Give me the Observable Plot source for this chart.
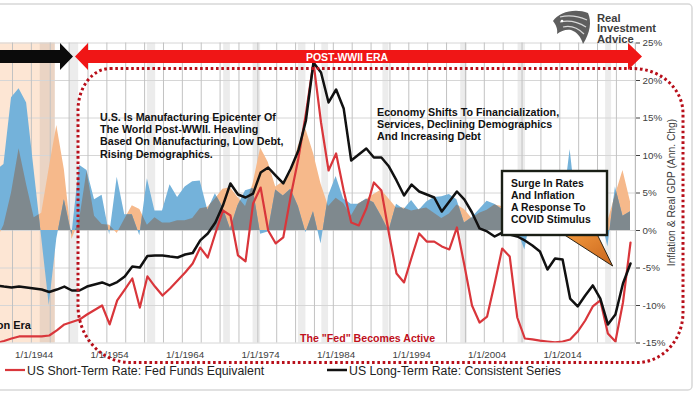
<!DOCTYPE html>
<html>
<head>
<meta charset="utf-8">
<script src="https://cdn.jsdelivr.net/npm/d3@7"></script>
<script src="https://cdn.jsdelivr.net/npm/@observablehq/plot@0.6"></script>
<style>
html,body{margin:0;padding:0;background:#fff;}
#chart{width:700px;height:394px;overflow:hidden;}
</style>
</head>
<body>
<div id="chart"></div>
<script>
// ---------- DATA ----------
const areaYears = [1938,1939,1940,1941,1942,1943,1944,1945,1946,1947,1948,1949,1950,1951,1952,1953,1954,1955,1956,1957,1958,1959,1960,1961,1962,1963,1964,1965,1966,1967,1968,1969,1970,1971,1972,1973,1974,1975,1976,1977,1978,1979,1980,1981,1982,1983,1984,1985,1986,1987,1988,1989,1990,1991,1992,1993,1994,1995,1996,1997,1998,1999,2000,2001,2002,2003,2004,2005,2006,2007,2008,2009,2010,2011,2012,2013,2014,2015,2016,2017,2018,2019,2020,2021,2022,2023];
// Inflation, annual % change (right axis)
const inflation = [-2.1,-1.4,0.7,5.0,10.9,6.1,1.7,2.3,8.3,14.0,8.1,-1.2,1.3,7.9,1.9,0.8,0.7,-0.4,1.5,3.3,2.8,0.7,1.7,1.0,1.0,1.3,1.3,1.6,2.9,3.1,4.2,5.5,5.7,4.4,3.2,6.2,11.0,9.1,5.8,6.5,7.6,11.3,13.5,10.3,6.2,3.2,4.3,3.6,1.9,3.6,4.1,4.8,5.4,4.2,3.0,3.0,2.6,2.8,3.0,2.3,1.6,2.2,3.4,2.8,1.6,2.3,2.7,3.4,3.2,2.8,3.8,-0.4,1.6,3.2,2.1,1.5,1.6,0.1,1.3,2.1,2.4,1.8,1.2,4.7,8.0,3.8];
// Real GDP, annual % change (right axis)
const realGDP = [-3.3,8.0,8.8,17.7,18.9,17.0,8.0,-1.0,-10.0,-1.1,4.1,-0.6,8.7,8.0,4.1,4.7,-0.6,7.1,2.1,2.1,-0.7,6.9,2.6,2.6,6.1,4.4,5.8,6.5,6.6,2.7,4.9,3.1,0.2,3.3,5.3,5.6,-0.5,-0.2,5.4,4.6,5.5,3.2,-0.3,2.5,-1.8,4.6,7.2,4.2,3.5,3.5,4.2,3.7,1.9,-0.1,3.5,2.8,4.0,2.7,3.8,4.4,4.5,4.8,4.1,1.0,1.7,2.8,3.9,3.5,2.8,2.0,0.1,-2.6,2.7,1.6,2.3,2.1,2.5,10.8,1.8,2.5,3.0,2.3,-2.2,5.8,1.9,2.5];

const rateYears = [1939,1940,1941,1942,1943,1944,1945,1946,1947,1948,1949,1950,1951,1952,1953,1954,1955,1956,1957,1958,1959,1960,1961,1962,1963,1964,1965,1966,1967,1968,1969,1970,1971,1972,1973,1974,1975,1976,1977,1978,1979,1980,1981,1982,1983,1984,1985,1986,1987,1988,1989,1990,1991,1992,1993,1994,1995,1996,1997,1998,1999,2000,2001,2002,2003,2004,2005,2006,2007,2008,2009,2010,2011,2012,2013,2014,2015,2016,2017,2018,2019,2020,2021,2022,2023];
// US Short-Term Rate: Fed Funds Equivalent (%), on the hidden 0–16% left scale
const shortRate = [0.0,0.11,0.24,0.35,0.35,0.35,0.35,0.40,0.67,0.99,1.12,1.25,1.52,1.76,2.00,0.99,2.27,2.85,3.44,1.89,3.55,3.01,2.53,2.91,3.33,3.76,4.24,5.09,4.56,5.84,7.07,6.80,4.67,4.35,7.44,8.29,6.00,5.31,5.63,7.87,9.84,12.24,14.96,11.76,9.20,10.11,8.13,6.43,6.27,7.17,8.56,8.13,5.84,3.71,3.23,4.56,5.84,5.41,5.41,5.15,4.99,6.16,4.13,2.00,1.09,1.41,3.17,5.04,4.61,1.36,0.24,0.19,0.13,0.08,0.03,0.08,0.19,0.61,1.20,1.95,2.27,0.51,0.08,2.16,5.36];
// US Long-Term Rate: Consistent Series (%), same hidden left scale
const longRate = [3.07,3.01,2.96,3.01,2.96,2.91,2.85,2.72,2.85,3.01,2.80,2.80,3.01,3.12,3.23,3.07,3.25,3.55,4.08,4.03,4.64,4.67,4.67,4.61,4.56,4.72,4.80,5.47,5.84,6.43,7.33,8.51,7.92,7.76,7.97,9.09,9.36,8.93,8.51,9.31,10.27,11.87,14.96,14.43,12.83,13.52,12.51,9.73,10.05,10.37,9.89,9.89,9.41,8.67,7.87,8.45,8.08,7.92,7.76,7.01,7.55,8.08,7.65,6.96,6.11,5.95,5.68,5.89,5.79,5.68,5.47,5.20,4.88,3.92,4.51,4.45,2.37,1.95,2.53,3.07,2.37,0.99,1.52,3.17,4.24];

const xTickYears = [1944,1954,1964,1974,1984,1994,2004,2014];
const yTicks = [-15,-10,-5,0,5,10,15,20,25];
const recessions = [[1944.8,1946.8],[1948.7,1949.9],[1959.0,1960.1],[1969.1,1970.0],[1973.0,1974.0],[1979.0,1980.0],[1982.1,1983.0],[1990.2,1991.0],[2000.5,2001.4],[2008.1,2009.1],[2019.7,2020.5]];
const eraSpan = [1930, 1946.8];

// ---------- HELPERS ----------
const FONT = '"Liberation Sans", Arial, Helvetica, sans-serif';
const toRight = r => -15 + 2.5 * r; // left rate axis 0–16% aligned with right axis −15%…25%

// region where the two areas overlap (drawn grey), with breakpoints inserted
function overlapSeries(xs, a, b) {
  const f = (p, q) => (p > 0 && q > 0) ? Math.min(p, q) : (p < 0 && q < 0) ? Math.max(p, q) : 0;
  const pts = [];
  for (let i = 0; i < xs.length; i++) {
    pts.push({x: xs[i], y: f(a[i], b[i])});
    if (i < xs.length - 1) {
      const da = a[i + 1] - a[i], db = b[i + 1] - b[i];
      const ts = [];
      if (a[i] * a[i + 1] < 0) ts.push(-a[i] / da);
      if (b[i] * b[i + 1] < 0) ts.push(-b[i] / db);
      if (da !== db) { const t = (b[i] - a[i]) / (da - db); if (t > 0 && t < 1) ts.push(t); }
      ts.sort((p, q) => p - q).forEach(t => {
        pts.push({x: xs[i] + (xs[i + 1] - xs[i]) * t, y: f(a[i] + da * t, b[i] + db * t)});
      });
    }
  }
  return pts;
}

const areaData = areaYears.map((year, i) => ({year, infl: inflation[i], gdp: realGDP[i]}));
const rateData = rateYears.map((year, i) => ({year, short: shortRate[i], long: longRate[i]}));
const overlap = overlapSeries(areaYears, inflation, realGDP);
const xDomain = [1939.54, 2023.66];
const gridYears = d3.range(1941.13, 2024, 2.5);

const plot = Plot.plot({
  width: 700, height: 394,
  marginTop: 42.5, marginBottom: 51.5, marginLeft: 0, marginRight: 65,
  x: {domain: xDomain},
  y: {domain: [-15, 25]},
  style: {fontFamily: FONT, background: "transparent"},
  marks: [
    Plot.rect([eraSpan], {x1: d => Math.max(d[0], xDomain[0]), x2: d => d[1], fill: "#fde6d4"}),
    Plot.rect(recessions, {x1: d => d[0], x2: d => d[1], fill: "#000", fillOpacity: 0.075}),
    Plot.gridY(yTicks, {stroke: "#d6d6d6", strokeOpacity: 1}),
    Plot.gridX(gridYears, {stroke: "#c2c2c2", strokeOpacity: 1}),
    Plot.areaY(areaData, {x: "year", y: "infl", fill: "#f6b98b", clip: true}),
    Plot.areaY(areaData, {x: "year", y: "gdp", fill: "#74b2da", clip: true}),
    Plot.areaY(overlap, {x: "x", y: "y", fill: "#7f898e", clip: true}),
    Plot.line(rateData, {x: "year", y: d => toRight(d.short), stroke: "#d9363b", strokeWidth: 2.2, clip: true}),
    Plot.line(rateData, {x: "year", y: d => toRight(d.long), stroke: "#111", strokeWidth: 2.5, clip: true}),
    Plot.ruleX([xDomain[1]], {stroke: "#bcbcbc"}),
    Plot.axisY(yTicks, {anchor: "right", tickFormat: d => d + "%", tickSize: 4, tickPadding: 3, fontSize: 9.8, color: "#404040"}),
    Plot.axisX(xTickYears, {anchor: "bottom", tickFormat: d => "1/1/" + d, tickSize: 0, tickPadding: 8, fontSize: 9.8, color: "#404040"})
  ]
});
document.getElementById("chart").appendChild(plot);

// ---------- ANNOTATIONS ----------
const sx = plot.scale("x").apply, sy = plot.scale("y").apply;
const svg = d3.select(plot);
const ann = svg.append("g").attr("font-family", FONT).attr("text-anchor", "start");

// outer light frame of the graphic
ann.append("rect").attr("x", -6).attr("y", 4).attr("width", 698).attr("height", 386).attr("rx", 4)
  .attr("fill", "none").attr("stroke", "#d8d8d8").attr("stroke-width", 1.5);

// right axis title
ann.append("text").attr("transform", `translate(675,${sy(5)}) rotate(-90)`).attr("text-anchor", "middle")
  .attr("font-size", 10.3).attr("fill", "#404040").text("Inflation & Real GDP (Ann. Chg)");

// black era arrow (cut by left edge)
ann.append("path").attr("d", "M-10,50 H60 V43 L73,56.5 L60,70 V63 H-10 Z").attr("fill", "#0b0b0b");
// red double arrow "POST-WWII ERA"
ann.append("path").attr("d", "M75,56.5 L88,43 V50 H628 V43 L642,56.5 L628,70 V63 H88 V70 Z").attr("fill", "#f01616");
ann.append("text").attr("x", 347).attr("y", 61).attr("text-anchor", "middle").attr("font-size", 10.5)
  .attr("font-weight", "bold").attr("fill", "#fff").text("POST-WWII ERA");

// dotted rounded rectangle
ann.append("path")
  .attr("d", "M110,68.5 L633,68.5 A50 45 0 0 1 683,113 L683,313 A46 50 0 0 1 637,362.5 L130,362.5 A52 57 0 0 1 78,306 L78,110 A32 42 0 0 1 110,68.5 Z")
  .attr("fill", "none").attr("stroke", "#b80f1a").attr("stroke-width", 3).attr("stroke-dasharray", "2.6 2.7");

// era labels
ann.append("text").attr("x", 31).attr("y", 329).attr("text-anchor", "end").attr("font-size", 11)
  .attr("font-weight", "bold").attr("fill", "#111").text("Great Depression Era");
ann.append("text").attr("x", 300).attr("y", 342).attr("font-size", 10.6)
  .attr("font-weight", "bold").attr("fill", "#c0101c").text('The "Fed" Becomes Active');

function block(x, y0, lines, size, lh) {
  const t = ann.append("text").attr("font-size", size).attr("font-weight", "bold").attr("fill", "#111").attr("text-anchor", "start");
  lines.forEach((s, i) => t.append("tspan").attr("x", x).attr("y", y0 + i * lh).text(s));
}
block(100, 121, ["U.S. Is Manufacturing Epicenter Of", "The World Post-WWII. Heavling", "Based On Manufacturing, Low Debt,", "Rising Demographics."], 10.7, 12.2);
block(377, 116, ["Economy Shifts To Financialization,", "Services, Declining Demographics", "And Increasing Debt"], 10.7, 12.2);

// callout
const grad = svg.append("defs").append("linearGradient").attr("id", "cg").attr("x1", 0).attr("y1", 0).attr("x2", 1).attr("y2", 1);
grad.append("stop").attr("offset", "0%").attr("stop-color", "#f39a3e");
grad.append("stop").attr("offset", "100%").attr("stop-color", "#c8641c");
const tipX = sx(2020.7), tipY = sy(-4.8);
ann.append("path").attr("d", `M563,234 L597,234 L${tipX},${tipY} Z`).attr("fill", "url(#cg)").attr("stroke", "#2c2416").attr("stroke-width", 1);
ann.append("rect").attr("x", 502).attr("y", 171).attr("width", 105).attr("height", 64)
  .attr("fill", "#fff").attr("stroke", "#1a1f16").attr("stroke-width", 2.4);
block(511, 187.3, ["Surge In Rates", "And Inflation", "A Response To", "COVID Stimulus"], 10.4, 12);

// logo
const logo = ann.append("g");
logo.append("path").attr("d", "M553,21 C559,12 575,8 588,13 C592,22 590,33 583,44 C581,37 577,32 571,30 C566,29 561,31 557,34 C558,29 556,25 553,21 Z").attr("fill", "#5e5e5e");
["M560,17 C568,15 578,16 587,20", "M560,22 C569,20 578,22 586,27", "M563,27 C571,25 578,28 584,34"].forEach(d =>
  logo.append("path").attr("d", d).attr("fill", "none").attr("stroke", "#d9d9d9").attr("stroke-width", 1.2));
logo.append("circle").attr("cx", 562).attr("cy", 21).attr("r", 1.3).attr("fill", "#fff");
const logoText = ann.append("text").attr("font-size", 11.2).attr("font-weight", "bold").attr("fill", "#3d3d3d").attr("text-anchor", "start");
[["Real", 21.5], ["Investment", 32.2], ["Advice", 42.9]].forEach(([s, y]) =>
  logoText.append("tspan").attr("x", 597).attr("y", y).text(s));

// legend
ann.append("line").attr("x1", 5).attr("x2", 25).attr("y1", 370).attr("y2", 370).attr("stroke", "#d9363b").attr("stroke-width", 2.2);
ann.append("text").attr("x", 27).attr("y", 374.5).attr("font-size", 12.3).attr("fill", "#222").text("US Short-Term Rate: Fed Funds Equivalent");
ann.append("line").attr("x1", 327).attr("x2", 347).attr("y1", 370).attr("y2", 370).attr("stroke", "#111").attr("stroke-width", 2.5);
ann.append("text").attr("x", 349).attr("y", 374.5).attr("font-size", 12.3).attr("fill", "#222").text("US Long-Term Rate: Consistent Series");
</script>
</body>
</html>
